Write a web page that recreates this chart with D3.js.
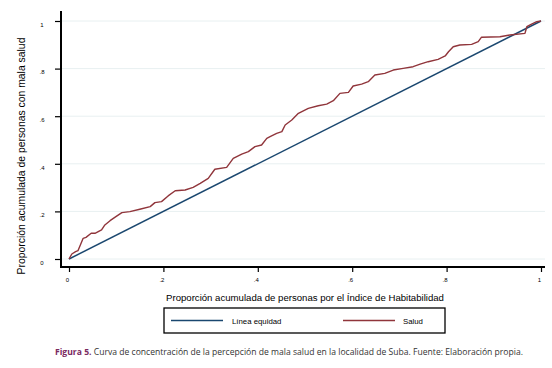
<!DOCTYPE html>
<html><head><meta charset="utf-8">
<script src="https://cdn.jsdelivr.net/npm/d3@7"></script>
<style>body{margin:0;background:#fff}svg{display:block}</style>
</head><body><svg id="c" width="552" height="368"></svg>
<script>
const tickValues = [0, 0.2, 0.4, 0.6, 0.8, 1];
const tickLabels = ["0", ".2", ".4", ".6", ".8", "1"];
const equidadX = [0, 1];
const equidadY = [0, 1];
const saludX = [0,0.006,0.014,0.019,0.030,0.036,0.047,0.055,0.069,0.076,0.087,0.097,0.112,0.129,0.150,0.172,0.182,0.196,0.210,0.225,0.246,0.263,0.278,0.295,0.309,0.334,0.348,0.366,0.380,0.394,0.408,0.419,0.426,0.440,0.451,0.458,0.472,0.486,0.507,0.528,0.546,0.560,0.574,0.592,0.602,0.620,0.634,0.648,0.669,0.687,0.708,0.729,0.744,0.761,0.782,0.797,0.804,0.814,0.828,0.853,0.867,0.874,0.913,0.934,0.966,0.970,0.980,0.991,1];
const saludY = [0,0.021,0.031,0.035,0.087,0.091,0.108,0.108,0.122,0.143,0.161,0.175,0.195,0.199,0.209,0.220,0.237,0.241,0.265,0.287,0.290,0.301,0.318,0.339,0.377,0.385,0.423,0.441,0.451,0.472,0.479,0.507,0.514,0.528,0.535,0.563,0.584,0.612,0.633,0.644,0.651,0.665,0.696,0.700,0.727,0.735,0.745,0.773,0.780,0.794,0.801,0.808,0.819,0.829,0.839,0.853,0.871,0.892,0.899,0.902,0.913,0.932,0.934,0.941,0.948,0.976,0.987,0.997,1];
const seriesNames = ["Línea equidad", "Salud"];
const colors = ["#1a476f", "#90353b"];
const xTitle = "Proporción acumulada de personas por el Índice de Habitabilidad";
const yTitle = "Proporción acumulada de personas con mala salud";

const svg = d3.select("#c");
const x = d3.scaleLinear().domain([0, 1]).range([69, 541]);
const y = d3.scaleLinear().domain([0, 1]).range([259, 21]);
const axX = 61, axY = 267, axRight = 545, axTop = 11;
const font = "Liberation Sans, Arial, sans-serif";

// gridlines
svg.append("g").selectAll("line").data(tickValues).join("line")
  .attr("x1", axX).attr("x2", axRight)
  .attr("y1", d => y(d)).attr("y2", d => y(d))
  .attr("stroke", "#e8f0f1").attr("stroke-width", 1);

// y axis
const yAxis = d3.axisLeft(y).tickValues(tickValues).tickSize(6)
  .tickFormat((d, i) => tickLabels[i]);
const gy = svg.append("g").attr("transform", `translate(${axX},0)`).call(yAxis);
gy.select(".domain").remove();
gy.selectAll(".tick line").attr("stroke", "#000").attr("stroke-width", 1.2);
gy.selectAll(".tick text").attr("x", -19).attr("dy", "0.9em")
  .attr("font-family", font).attr("font-size", 6).attr("fill", "#000").attr("text-anchor", "middle");

// x axis
const xAxis = d3.axisBottom(x).tickValues(tickValues).tickSize(5)
  .tickFormat((d, i) => tickLabels[i]);
const gx = svg.append("g").attr("transform", `translate(0,${axY})`).call(xAxis);
gx.select(".domain").remove();
gx.selectAll(".tick line").attr("stroke", "#000").attr("stroke-width", 1.2);
gx.selectAll(".tick text").attr("y", 11).attr("dx", "-2")
  .attr("font-family", font).attr("font-size", 6).attr("fill", "#000");

// axis lines
svg.append("line").attr("x1", axX).attr("x2", axX).attr("y1", axTop).attr("y2", axY + 1)
  .attr("stroke", "#000").attr("stroke-width", 2);
svg.append("line").attr("x1", axX).attr("x2", axRight).attr("y1", axY).attr("y2", axY)
  .attr("stroke", "#000").attr("stroke-width", 2);

// lines
const line = d3.line().x(d => x(d[0])).y(d => y(d[1]));
svg.append("path").datum(equidadX.map((v, i) => [v, equidadY[i]]))
  .attr("d", line).attr("fill", "none").attr("stroke", colors[0]).attr("stroke-width", 1.5);
svg.append("path").datum(saludX.map((v, i) => [v, saludY[i]]))
  .attr("d", line).attr("fill", "none").attr("stroke", colors[1]).attr("stroke-width", 1.4)
  .attr("stroke-linejoin", "round");

// titles
svg.append("text").attr("x", 305).attr("y", 301).attr("text-anchor", "middle")
  .attr("font-family", font).attr("font-size", 9.6).attr("fill", "#000").text(xTitle);
svg.append("text").attr("transform", "translate(25,156) rotate(-90)").attr("text-anchor", "middle")
  .attr("font-family", font).attr("font-size", 10.4).attr("fill", "#000").text(yTitle);

// legend
svg.append("rect").attr("x", 164).attr("y", 308).attr("width", 281).attr("height", 25)
  .attr("fill", "#fff").attr("stroke", "#000").attr("stroke-width", 1.3);
const leg = [[171, 223, 232], [343, 395, 403]];
leg.forEach((p, i) => {
  svg.append("line").attr("x1", p[0]).attr("x2", p[1]).attr("y1", 320.5).attr("y2", 320.5)
    .attr("stroke", colors[i]).attr("stroke-width", 1.5);
  svg.append("text").attr("x", p[2]).attr("y", 323.5).attr("font-family", font)
    .attr("font-size", 7.8).attr("fill", "#000").text(seriesNames[i]);
});

// caption
const cap = svg.append("text").attr("x", 55).attr("y", 355)
  .attr("font-family", "Liberation Sans Narrow, Open Sans, sans-serif").attr("font-size", 9.2)
  .attr("textLength", 468).attr("lengthAdjust", "spacingAndGlyphs");
cap.append("tspan").attr("font-weight", "bold").attr("fill", "#7a2a5f").text("Figura 5.");
cap.append("tspan").attr("fill", "#333").text(" Curva de concentración de la percepción de mala salud en la localidad de Suba. Fuente: Elaboración propia.");
</script></body></html>
